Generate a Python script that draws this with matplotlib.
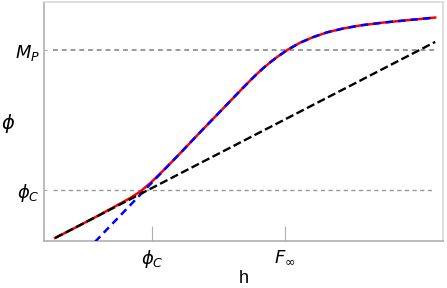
import matplotlib
matplotlib.use("Agg")
import matplotlib.pyplot as plt
import numpy as np

plt.rcParams['font.family'] = ['Liberation Sans', 'DejaVu Sans']
plt.rcParams['mathtext.fontset'] = 'dejavusans'

# full curve (red)
full_x = [0.28, 0.90, 1.40, 1.90, 2.16, 2.41, 2.66, 2.91, 3.16, 3.41, 3.66, 3.91, 4.49, 4.91,
          5.15, 5.34, 5.49, 5.67, 5.84, 6.12, 6.42, 6.74, 7.09, 7.49, 7.92, 8.50, 9.17, 9.80]
full_y = [0.13, 0.66, 1.10, 1.56, 1.80, 2.07, 2.42, 2.82, 3.24, 3.67, 4.11, 4.55, 5.55, 6.28,
          6.69, 7.00, 7.23, 7.48, 7.70, 8.02, 8.30, 8.53, 8.73, 8.89, 9.02, 9.14, 9.25, 9.35]

# approximation above the transition (blue)
high_x = [1.28, 3.16, 3.41, 3.66, 3.91, 4.49, 4.91,
          5.15, 5.34, 5.49, 5.67, 5.84, 6.12, 6.42, 6.74, 7.09, 7.49, 7.92, 8.50, 9.17, 9.80]
high_y = [-0.03, 3.24, 3.67, 4.11, 4.55, 5.55, 6.28,
          6.69, 7.00, 7.23, 7.48, 7.70, 8.02, 8.30, 8.53, 8.73, 8.89, 9.02, 9.14, 9.25, 9.35]

# linear regime (black)
low_x = [0.28, 9.80]
low_y = [0.13, 8.33]

x_ticks = [2.71, 6.04]
x_tick_labels = [r'$\phi_C$', r'$F_\infty$']
y_ticks = [2.13, 7.99]
y_tick_labels = [r'$\phi_C$', r'$M_P$']

fig = plt.figure(figsize=(4.47, 2.88), dpi=100)
ax = fig.add_axes([0.0984, 0.163, 0.893, 0.83])

ax.plot([0.22, 9.8], [y_ticks[0]] * 2, color='#999999', lw=1.0, ls=(0, (3, 2.5)), zorder=1)
ax.plot([0.22, 9.8], [y_ticks[1]] * 2, color='#999999', lw=1.4, ls=(0, (2.5, 2)), zorder=1)

ax.plot(full_x, full_y, color='red', lw=1.8, zorder=2, solid_joinstyle='round')
ax.plot(high_x, high_y, color='blue', lw=1.8, ls=(0, (3, 2)), zorder=3)
ax.plot(low_x, low_y, color='black', lw=1.7, ls=(0, (3.5, 1.5)), zorder=4)

ax.set_xlim(0, 10)
ax.set_ylim(0, 10)
ax.set_xticks(x_ticks)
ax.set_xticklabels(x_tick_labels, fontsize=13)
ax.set_yticks(y_ticks)
ax.set_yticklabels(y_tick_labels, fontsize=13)
ax.tick_params(axis='x', direction='in', length=11, width=0.8, color='#b0b0b0', pad=5)
ax.tick_params(axis='y', direction='in', length=2, width=0.8, color='#b0b0b0', pad=3)

ax.set_xlabel('h', fontsize=13, labelpad=0)
ax.set_ylabel(r'$\phi$', fontsize=14, rotation=0, va='center')
ax.yaxis.set_label_coords(-0.09, 0.49)

for side in ['left', 'bottom']:
    ax.spines[side].set_color('#b0b0b0')
for side in ['top', 'right']:
    ax.spines[side].set_color('#d8d8d8')
for s in ax.spines.values():
    s.set_linewidth(1.2)

fig.savefig('out.png', dpi=100)
